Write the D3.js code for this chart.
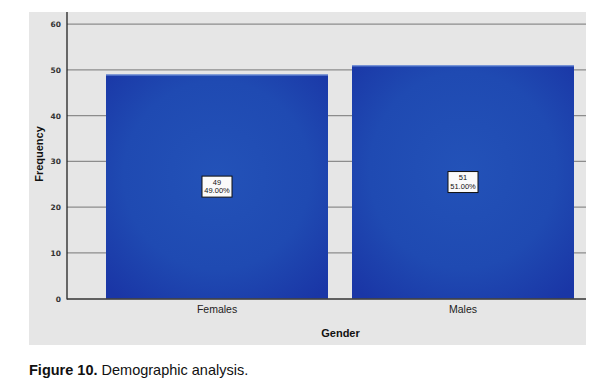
<!DOCTYPE html>
<html><head><meta charset="utf-8">
<script src="https://cdn.jsdelivr.net/npm/d3@7"></script>
<style>body{margin:0;background:#fff;} svg{display:block;}</style>
</head><body>
<svg id="c" width="597" height="389"></svg>
<script>
const categories = ["Females", "Males"];
const counts = [49, 51];
const percents = ["49.00%", "51.00%"];
const yTicks = [0, 10, 20, 30, 40, 50, 60];

const svg = d3.select("#c");
const defs = svg.append("defs");
const g = defs.append("radialGradient").attr("id","bg").attr("cx","50%").attr("cy","45%").attr("r","70%");
g.append("stop").attr("offset","0%").attr("stop-color","#2352b8");
g.append("stop").attr("offset","60%").attr("stop-color","#1f4ab2");
g.append("stop").attr("offset","100%").attr("stop-color","#1a36a6");

// panel background
svg.append("rect").attr("x",29).attr("y",12).attr("width",557).attr("height",333).attr("fill","#e6e6e6");

const x = d3.scaleBand().domain(categories).range([94, 586]).paddingInner(24/246).paddingOuter(12/246);
const y = d3.scaleLinear().domain([0, 60]).range([298.7, 24.2]);

// gridlines
svg.append("g").selectAll("line").data(yTicks.filter(d=>d>0)).join("line")
  .attr("x1",67).attr("x2",586).attr("y1",d=>y(d)).attr("y2",d=>y(d))
  .attr("stroke","#8c8c8c").attr("stroke-width",1.2);

// bars
svg.append("g").selectAll("rect").data(categories).join("rect")
  .attr("x",d=>x(d)).attr("width",x.bandwidth())
  .attr("y",(d,i)=>y(counts[i])).attr("height",(d,i)=>y(0)-y(counts[i]))
  .attr("fill","url(#bg)");
svg.append("g").selectAll("line").data(categories).join("line")
  .attr("x1",d=>x(d)).attr("x2",d=>x(d)+x.bandwidth())
  .attr("y1",(d,i)=>y(counts[i])+0.5).attr("y2",(d,i)=>y(counts[i])+0.5)
  .attr("stroke","#7f9fe0").attr("stroke-width",1);

// y axis
const ya = svg.append("g").attr("transform","translate(67,0)")
  .call(d3.axisLeft(y).tickValues(yTicks).tickSize(0).tickPadding(6));
ya.select(".domain").remove();
ya.selectAll("text").attr("font-family","DejaVu Sans, sans-serif").attr("font-size",7.5).attr("font-weight","bold").attr("fill","#333");
svg.append("line").attr("x1",67).attr("x2",67).attr("y1",12).attr("y2",299.5).attr("stroke","#222").attr("stroke-width",1.3);
svg.append("line").attr("x1",67).attr("x2",586).attr("y1",299).attr("y2",299).attr("stroke","#333").attr("stroke-width",1.3);

// x axis labels
const xa = svg.append("g").attr("transform","translate(0,299)")
  .call(d3.axisBottom(x).tickSize(0).tickPadding(7));
xa.select(".domain").remove();
xa.selectAll("text").attr("font-family","Liberation Sans, Arial, sans-serif").attr("font-size",10.5).attr("fill","#222");

// value labels
const lab = svg.append("g").selectAll("g").data(categories).join("g")
  .attr("transform",(d,i)=>`translate(${x(d)+x.bandwidth()/2},${y(counts[i]/2)})`);
lab.append("rect").attr("x",-15).attr("y",-10.5).attr("width",30).attr("height",21)
  .attr("fill","#fafafa").attr("stroke","#111").attr("stroke-width",1);
lab.append("text").attr("y",-2).attr("text-anchor","middle").attr("font-family","Liberation Sans, Arial, sans-serif")
  .attr("font-size",7.5).attr("fill","#111").text((d,i)=>counts[i]);
lab.append("text").attr("y",6.5).attr("text-anchor","middle").attr("font-family","Liberation Sans, Arial, sans-serif")
  .attr("font-size",7.5).attr("fill","#111").text((d,i)=>percents[i]);

// axis titles
svg.append("text").attr("x",(67+586)/2+14).attr("y",337).attr("text-anchor","middle")
  .attr("font-family","Liberation Sans, Arial, sans-serif").attr("font-size",11).attr("font-weight","bold").attr("fill","#111").text("Gender");
svg.append("text").attr("transform","translate(43,154) rotate(-90)").attr("text-anchor","middle")
  .attr("font-family","Liberation Sans, Arial, sans-serif").attr("font-size",11).attr("font-weight","bold").attr("fill","#111").text("Frequency");

// caption
const cap = svg.append("text").attr("x",29).attr("y",375)
  .attr("font-family","Liberation Sans Narrow, Arial Narrow, Liberation Sans, sans-serif").attr("font-size",14.5).attr("fill","#111");
cap.append("tspan").attr("font-weight","bold").text("Figure 10.");
cap.append("tspan").text(" Demographic analysis.");
</script>
</body></html>
